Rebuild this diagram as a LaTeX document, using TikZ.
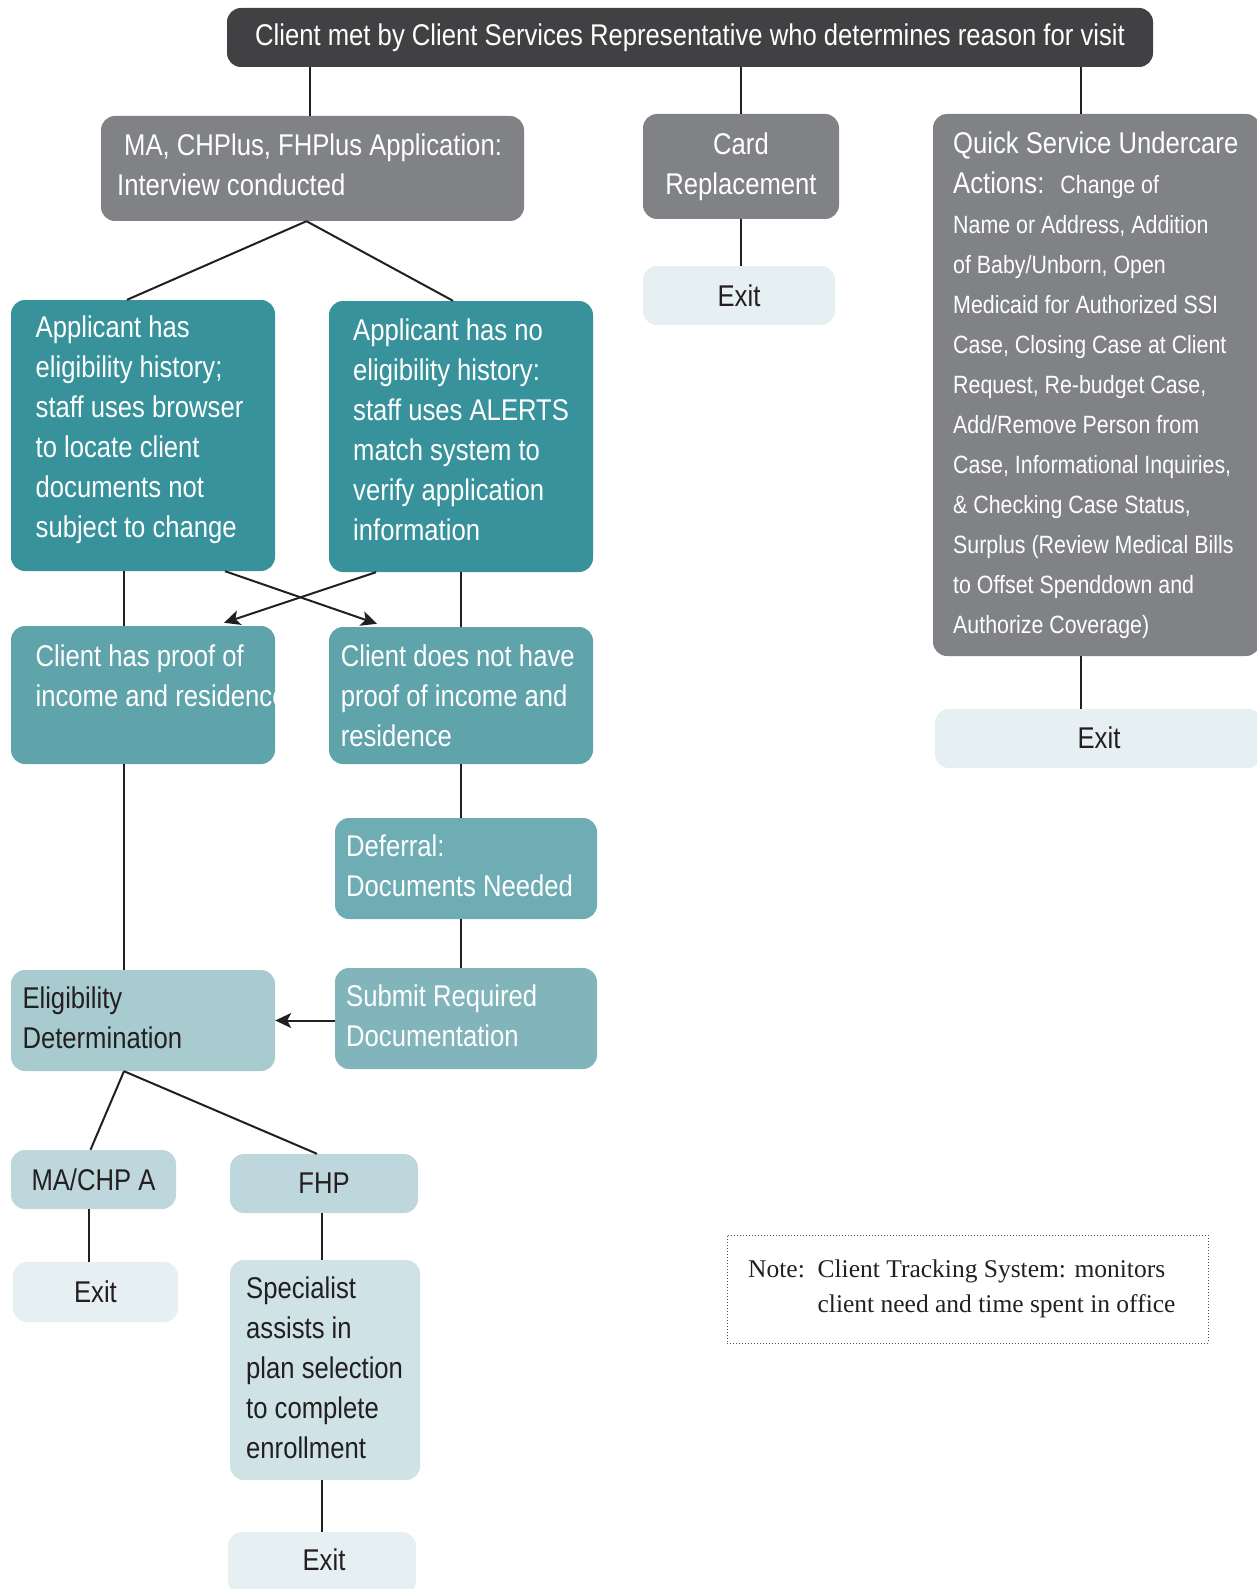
\documentclass[tikz,border=0pt]{standalone}
\usepackage{fontspec}
\setmainfont{Liberation Sans}[FakeStretch=0.855]
\newfontfamily\notefont{Liberation Serif}
\usetikzlibrary{arrows.meta,calc}
\definecolor{cdark}{HTML}{414042}
\definecolor{cgray}{HTML}{808285}
\definecolor{cteal}{HTML}{37929B}
\definecolor{ctealb}{HTML}{5FA3AB}
\definecolor{ctealc}{HTML}{6EADB4}
\definecolor{cteald}{HTML}{82B5BB}
\definecolor{cteale}{HTML}{A8CBD0}
\definecolor{ctealf}{HTML}{BDD7DC}
\definecolor{ctealg}{HTML}{CFE2E6}
\definecolor{cexit}{HTML}{E6EFF1}
\definecolor{ctext}{HTML}{231F20}
\begin{document}
\begin{tikzpicture}[x=1pt,y=-1pt,
  box/.style={rounded corners=14pt, inner sep=0pt, draw=none},
  big/.style={font=\fontsize{30}{40}\selectfont},
  txt/.style={inner sep=0pt, anchor=west, align=left, big},
  conn/.style={draw=ctext, line width=2pt},
  arr/.style={conn, -{Stealth[length=16pt,width=15pt,inset=4pt]}}]
\useasboundingbox (0,0) rectangle (1256,1589);

% boxes
\node[box, fill=cdark, minimum width=926pt, minimum height=59pt, text=white, big] (top) at (690,37.5)
  {Client met by Client Services Representative who determines reason for visit};
\node[box, fill=cgray, minimum width=423pt, minimum height=105pt] (ma) at (312.5,168.5) {};
\node[txt, text=white] (mat) at (117,165) {\hspace{7pt}MA, CHPlus, FHPlus Application:\\Interview conducted};
\node[box, fill=cgray, minimum width=196pt, minimum height=105pt, text=white, big, align=center] (card) at (741,166.5)
  {Card\\Replacement};
\node[box, fill=cexit, minimum width=192pt, minimum height=59pt, text=ctext, big] (exitc) at (739,295.5) {Exit};
\node[box, fill=cgray, minimum width=327pt, minimum height=542pt] (quick) at (1096.5,385) {};
\node[txt, text=white, font=\fontsize{25}{40}\selectfont] (quickt) at (953,385)
  {{\fontsize{30}{40}\selectfont Quick Service Undercare}\\
   {\fontsize{30}{40}\selectfont Actions:}\hspace{16pt}Change of\\
   Name or Address, Addition\\
   of Baby/Unborn, Open\\
   Medicaid for Authorized SSI\\
   Case, Closing Case at Client\\
   Request, Re-budget Case,\\
   Add/Remove Person from\\
   Case, Informational Inquiries,\\
   \& Checking Case Status,\\
   Surplus (Review Medical Bills\\
   to Offset Spenddown and\\
   Authorize Coverage)};
\node[box, fill=cexit, minimum width=327pt, minimum height=59pt] (exitq) at (1098.5,738.5) {};
\node[inner sep=0pt, text=ctext, big] (exitqt) at (1099,738) {Exit};

\node[box, fill=cteal, minimum width=264pt, minimum height=271pt] (app1) at (143,435.5) {};
\node[txt, text=white] (app1t) at (35.5,430)
  {Applicant has\\eligibility history;\\staff uses browser\\to locate client\\documents not\\subject to change};
\node[box, fill=cteal, minimum width=264pt, minimum height=271pt] (app2) at (461,436.5) {};
\node[txt, text=white] (app2t) at (353,430)
  {Applicant has no\\eligibility history:\\staff uses ALERTS\\match system to\\verify application\\information};

\node[box, fill=ctealb, minimum width=264pt, minimum height=138pt] (cproof) at (143,695) {};
\begin{scope}
  \clip[rounded corners=14pt] (cproof.north west) rectangle (cproof.south east);
  \node[txt, text=white] (cprooft) at (35.5,675.5) {Client has proof of\\income and residence};
\end{scope}
\node[box, fill=ctealb, minimum width=264pt, minimum height=137pt] (cnot) at (461,695.5) {};
\node[txt, text=white] (cnott) at (340.6,695.5) {Client does not have\\proof of income and\\residence};

\node[box, fill=ctealc, minimum width=262pt, minimum height=101pt] (defer) at (466,868.5) {};
\node[txt, text=white] (defert) at (346,866) {Deferral:\\Documents Needed};
\node[box, fill=cteald, minimum width=262pt, minimum height=101pt] (submit) at (466,1018.5) {};
\node[txt, text=white] (submitt) at (346,1016) {Submit Required\\Documentation};
\node[box, fill=cteale, minimum width=264pt, minimum height=101pt] (elig) at (143,1020.5) {};
\node[txt, text=ctext] (eligt) at (22.3,1018) {Eligibility\\Determination};

\node[box, fill=ctealf, minimum width=165pt, minimum height=59pt, text=ctext, big] (machp) at (93.5,1179.5) {MA/CHP A};
\node[box, fill=ctealf, minimum width=188pt, minimum height=59pt, text=ctext, big] (fhp) at (324,1183.5) {FHP};
\node[box, fill=cexit, minimum width=165pt, minimum height=60pt, text=ctext, big] (exitm) at (95.5,1292) {Exit};
\node[box, fill=ctealg, minimum width=190pt, minimum height=220pt] (spec) at (325,1370) {};
\node[txt, text=ctext] (spect) at (246,1368)
  {Specialist\\assists in\\plan selection\\to complete\\enrollment};
\node[box, fill=cexit, minimum width=188pt, minimum height=63pt] (exitf) at (322,1563.5) {};
\node[inner sep=0pt, text=ctext, big] (exitft) at (324,1560) {Exit};

\node[draw=ctext!80, line width=1pt, dash pattern=on 1pt off 2pt, minimum width=481pt, minimum height=108pt, inner sep=0pt] (note) at (967.5,1289) {};
\node[inner sep=0pt, anchor=west, align=left, text=ctext, font=\notefont\fontsize{25.5}{35}\selectfont] (notet) at (748,1289)
  {Note:\ \ Client Tracking System: monitors\\\phantom{Note:\ \ }client need and time spent in office};

% connectors
\draw[conn] ([xshift=-3pt]ma.north |- top.south) -- ([xshift=-3pt]ma.north);
\draw[conn] (card.north |- top.south) -- (card.north);
\draw[conn] ([xshift=-16pt]quick.north |- top.south) -- ([xshift=-16pt]quick.north);
\draw[conn] (card.south) -- (card.south |- exitc.north);
\draw[conn] ([xshift=-16pt]quick.south) -- ([xshift=-16pt]quick.south |- exitq.north);

\draw[conn] ([xshift=-6pt]ma.south) -- ([xshift=-16pt]app1.north);
\draw[conn] ([xshift=-6pt]ma.south) -- ([xshift=-8pt]app2.north);

\draw[conn] ([xshift=-19pt]app1.south) -- ([xshift=-19pt]cproof.north);
\draw[conn] ([xshift=-19pt]cproof.south) -- ([xshift=-19pt]elig.north);
\draw[conn] (app2.south) -- (app2.south |- cnot.north);
\draw[arr] ([xshift=82pt]app1.south) -- ([xshift=-84pt,yshift=3pt]cnot.north);
\draw[arr] ([xshift=-85pt]app2.south) -- ([xshift=81pt,yshift=3pt]cproof.north);

\draw[conn] (cnot.south) -- (cnot.south |- defer.north);
\draw[conn] ([xshift=-5pt]defer.south) -- ([xshift=-5pt]submit.north);
\draw[arr] (submit.west |- elig.east) -- (elig.east);

\draw[conn] ([xshift=-19pt]elig.south) -- ([xshift=-3pt]machp.north);
\draw[conn] ([xshift=-19pt]elig.south) -- ([xshift=-7pt]fhp.north);
\draw[conn] ([xshift=-4.5pt]machp.south) -- ([xshift=-4.5pt]machp.south |- exitm.north);
\draw[conn] ([xshift=-2pt]fhp.south) -- ([xshift=-2pt]fhp.south |- spec.north);
\draw[conn] ([xshift=-3pt]spec.south) -- ([xshift=-3pt]spec.south |- exitf.north);
\end{tikzpicture}
\end{document}
